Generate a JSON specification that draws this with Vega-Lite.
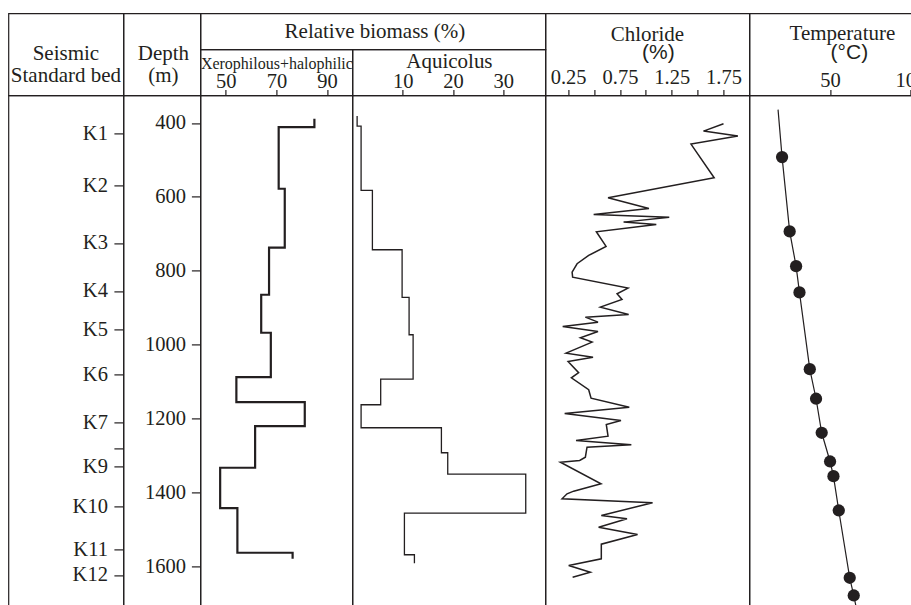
{
  "$schema": "https://vega.github.io/schema/vega-lite/v6.json",
  "padding": {"left": 7.4, "top": 12.4, "right": 0, "bottom": 0},
  "background": "white",
  "config": {
    "view": {"stroke": "#231f20", "strokeWidth": 1.2},
    "axis": {"labelFont": "Liberation Serif", "labelFontSize": 20.5, "labelColor": "#231f20", "tickColor": "#231f20", "tickWidth": 1.2,
             "domain": false, "grid": false, "labelOverlap": false, "labelFlush": false,
             "titleFont": "Liberation Serif", "titleFontWeight": "normal", "titleColor": "#231f20"},
    "text": {"font": "Liberation Serif", "fontSize": 21, "color": "#231f20"}
  },
  "spacing": 0,
  "bounds": "flush",
  "vconcat": [
    {
      "spacing": 0, "bounds": "flush",
      "hconcat": [
        {"width": 115, "height": 82,
         "layer": [
           {"data": {"values": [{"label": "Seismic\nStandard bed"}]},
            "mark": {"type": "text", "lineBreak": "\n", "lineHeight": 22},
            "encoding": {"text": {"field": "label", "type": "nominal"}}},
           {"data": {"values": []}, "mark": "point",
            "encoding": {"x": {"field": "u", "type": "quantitative", "axis": null}}}
         ]},
        {"width": 77, "height": 82,
         "layer": [
           {"data": {"values": [{"label": "Depth\n(m)"}]},
            "mark": {"type": "text", "lineBreak": "\n", "lineHeight": 22, "dx": 1.5},
            "encoding": {"text": {"field": "label", "type": "nominal"}}},
           {"data": {"values": []}, "mark": "point",
            "encoding": {"x": {"field": "u", "type": "quantitative", "axis": null}}}
         ]},
        {"spacing": 0, "bounds": "flush",
         "vconcat": [
           {"width": 345, "height": 36,
            "layer": [
              {"data": {"values": [{"label": "Relative biomass (%)"}]},
               "mark": {"type": "text", "baseline": "alphabetic", "dy": 6.7, "dx": 2},
               "encoding": {"text": {"field": "label", "type": "nominal"}}},
              {"data": {"values": []}, "mark": "point",
               "encoding": {"x": {"field": "u", "type": "quantitative", "axis": null}}}
            ]},
           {"spacing": 0, "bounds": "flush",
            "hconcat": [
              {"width": 152, "height": 46, "data": {"values": []}, "mark": "point",
               "encoding": {
                 "x": {"field": "xero", "type": "quantitative",
                       "scale": {"domain": [40, 100], "nice": false, "zero": false},
                       "axis": {"orient": "top", "offset": -46, "values": [50, 70, 90], "tickSize": 6, "labelPadding": 2, "labelBaseline": "alphabetic",
                                "title": "Xerophilous+halophilic", "titleFontSize": 16, "titleBaseline": "alphabetic", "titleY": -27.3}}
               }},
              {"width": 193, "height": 46, "data": {"values": []}, "mark": "point",
               "encoding": {
                 "x": {"field": "aqui", "type": "quantitative",
                       "scale": {"domain": [0, 38.4], "nice": false, "zero": false},
                       "axis": {"orient": "top", "offset": -46, "values": [10, 20, 30], "tickSize": 6, "labelPadding": 2, "labelBaseline": "alphabetic",
                                "title": "Aquicolus", "titleFontSize": 21, "titleBaseline": "alphabetic", "titleY": -27.5}}
               }}
            ]}
         ]},
        {"width": 345, "height": 1, "data": {"values": []}, "mark": "point"},
        {"width": 204, "height": 82,
         "layer": [
           {"data": {"values": [{"label": "Chloride"}]},
            "mark": {"type": "text", "baseline": "alphabetic", "dy": -13.3},
            "encoding": {"text": {"field": "label", "type": "nominal"}}},
           {"data": {"values": [{"label": "(%)"}]},
            "mark": {"type": "text", "font": "Liberation Sans", "baseline": "alphabetic", "dy": 4.6, "dx": 11},
            "encoding": {"text": {"field": "label", "type": "nominal"}}},
           {"data": {"values": []}, "mark": "point",
            "encoding": {
              "x": {"field": "cl", "type": "quantitative",
                    "scale": {"domain": [0.03, 2.0], "nice": false, "zero": false},
                    "axis": {"orient": "top", "offset": -82, "values": [0.25, 0.5, 0.75, 1, 1.25, 1.5, 1.75], "tickSize": 6, "labelPadding": 6, "labelBaseline": "alphabetic", "title": null,
                             "labelExpr": "indexof([0.25, 0.75, 1.25, 1.75], datum.value) >= 0 ? format(datum.value, '.2f') : ''"}}
            }}
         ]},
        {"width": 162, "height": 82,
         "layer": [
           {"data": {"values": [{"label": "Temperature"}]},
            "mark": {"type": "text", "baseline": "alphabetic", "dy": -14, "dx": 12},
            "encoding": {"text": {"field": "label", "type": "nominal"}}},
           {"data": {"values": [{"label": "(°C)"}]},
            "mark": {"type": "text", "font": "Liberation Sans", "baseline": "alphabetic", "dy": 4.6, "dx": 19},
            "encoding": {"text": {"field": "label", "type": "nominal"}}},
           {"data": {"values": []}, "mark": "point",
            "encoding": {
              "x": {"field": "temp", "type": "quantitative",
                    "scale": {"domain": [0, 100.6], "nice": false, "zero": false},
                    "axis": {"orient": "top", "offset": -82, "values": [50, 100], "tickSize": 6, "labelPadding": 3, "labelBaseline": "alphabetic", "title": null}}
            }}
         ]}
      ]
    },
    {"width": 1, "height": 82, "data": {"values": []}, "mark": "point"},
    {
      "spacing": 0, "bounds": "flush",
      "hconcat": [
        {"width": 115, "height": 511, "data": {"values": []}, "mark": "point",
         "encoding": {
           "y": {"field": "depth", "type": "quantitative",
                 "scale": {"domain": [325.5, 1709], "reverse": true, "nice": false, "zero": false}, "axis": null}
         }},
        {"width": 77, "height": 511, "data": {"values": []}, "mark": "point",
         "encoding": {
           "y": {"field": "depth", "type": "quantitative",
                 "scale": {"domain": [325.5, 1709], "reverse": true, "nice": false, "zero": false},
                 "axis": {"orient": "left", "title": null, "tickSize": 9.5, "labelPadding": 6.5,
                          "values": [429, 569, 725, 855, 960, 1081, 1210, 1280, 1329, 1438, 1555, 1624],
                          "labelExpr": "['K1','K2','K3','K4','K5','K6','K7','','K9','K10','K11','K12'][indexof([429, 569, 725, 855, 960, 1081, 1210, 1280, 1329, 1438, 1555, 1624], datum.value)]"}}
         }},
        {"width": 152, "height": 511,
         "data": {"values": [
           {"pct": 85.0, "depth": 388.6}, {"pct": 70.9, "depth": 411.4}, {"pct": 73.3, "depth": 578.2},
           {"pct": 67.1, "depth": 737.9}, {"pct": 64.0, "depth": 865.2}, {"pct": 67.8, "depth": 968.1},
           {"pct": 54.2, "depth": 1088.3}, {"pct": 81.2, "depth": 1156}, {"pct": 61.6, "depth": 1221},
           {"pct": 47.8, "depth": 1333.6}, {"pct": 54.6, "depth": 1443}, {"pct": 76.4, "depth": 1563.8},
           {"pct": 76.4, "depth": 1580}
         ]},
         "mark": {"type": "line", "interpolate": "step-before", "color": "#231f20", "strokeWidth": 2.2},
         "encoding": {
           "x": {"field": "pct", "type": "quantitative", "scale": {"domain": [40, 100], "nice": false, "zero": false}, "axis": null},
           "y": {"field": "depth", "type": "quantitative",
                 "scale": {"domain": [325.5, 1709], "reverse": true, "nice": false, "zero": false},
                 "axis": {"orient": "left", "title": null, "values": [400, 600, 800, 1000, 1200, 1400, 1600], "format": "d", "tickSize": 9, "labelPadding": 6}},
           "order": {"field": "depth", "type": "quantitative"}
         }},
        {"width": 193, "height": 511,
         "data": {"values": [
           {"pct": 0.94, "depth": 381.6}, {"pct": 1.73, "depth": 408.7}, {"pct": 3.98, "depth": 582.8},
           {"pct": 9.89, "depth": 743.4}, {"pct": 11.28, "depth": 872.5}, {"pct": 12.08, "depth": 973.5},
           {"pct": 5.63, "depth": 1093.7}, {"pct": 1.73, "depth": 1163}, {"pct": 17.71, "depth": 1225.3},
           {"pct": 18.97, "depth": 1293}, {"pct": 34.49, "depth": 1351}, {"pct": 10.35, "depth": 1456.6},
           {"pct": 12.34, "depth": 1569.2}, {"pct": 12.34, "depth": 1592}
         ]},
         "mark": {"type": "line", "interpolate": "step-before", "color": "#231f20", "strokeWidth": 1.3},
         "encoding": {
           "x": {"field": "pct", "type": "quantitative", "scale": {"domain": [0, 38.4], "nice": false, "zero": false}, "axis": null},
           "y": {"field": "depth", "type": "quantitative",
                 "scale": {"domain": [325.5, 1709], "reverse": true, "nice": false, "zero": false}, "axis": null},
           "order": {"field": "depth", "type": "quantitative"}
         }},
        {"width": 204, "height": 511,
         "data": {"values": [
           {"cl": 1.750, "depth": 402.2}, {"cl": 1.557, "depth": 422.2}, {"cl": 1.889, "depth": 435.7},
           {"cl": 1.436, "depth": 457.4}, {"cl": 1.660, "depth": 548.4}, {"cl": 0.635, "depth": 602.5},
           {"cl": 1.030, "depth": 631.5}, {"cl": 0.496, "depth": 647.8}, {"cl": 1.226, "depth": 655.1},
           {"cl": 0.785, "depth": 668.6}, {"cl": 1.101, "depth": 674.8}, {"cl": 0.522, "depth": 694.6},
           {"cl": 0.616, "depth": 734.4}, {"cl": 0.448, "depth": 758.8}, {"cl": 0.336, "depth": 781.3},
           {"cl": 0.288, "depth": 804.0}, {"cl": 0.293, "depth": 817.5}, {"cl": 0.828, "depth": 847.3},
           {"cl": 0.722, "depth": 862.5}, {"cl": 0.770, "depth": 877.9}, {"cl": 0.561, "depth": 898.8},
           {"cl": 0.834, "depth": 918.5}, {"cl": 0.416, "depth": 925.9}, {"cl": 0.538, "depth": 939.4},
           {"cl": 0.197, "depth": 951.0}, {"cl": 0.538, "depth": 964.6}, {"cl": 0.368, "depth": 981.6},
           {"cl": 0.481, "depth": 993.6}, {"cl": 0.230, "depth": 1023.3}, {"cl": 0.490, "depth": 1034.2},
           {"cl": 0.249, "depth": 1045.8}, {"cl": 0.351, "depth": 1076.4}, {"cl": 0.281, "depth": 1090.0},
           {"cl": 0.448, "depth": 1122.4}, {"cl": 0.471, "depth": 1145.2}, {"cl": 0.840, "depth": 1169.6},
           {"cl": 0.216, "depth": 1186.6}, {"cl": 0.760, "depth": 1205.6}, {"cl": 0.618, "depth": 1216.4},
           {"cl": 0.635, "depth": 1248.1}, {"cl": 0.326, "depth": 1259.7}, {"cl": 0.860, "depth": 1271.4},
           {"cl": 0.432, "depth": 1277.9}, {"cl": 0.416, "depth": 1305.0}, {"cl": 0.361, "depth": 1313.9},
           {"cl": 0.175, "depth": 1318.5}, {"cl": 0.567, "depth": 1377.0}, {"cl": 0.303, "depth": 1397.0},
           {"cl": 0.239, "depth": 1404.1}, {"cl": 0.191, "depth": 1417.6}, {"cl": 1.065, "depth": 1428.4},
           {"cl": 0.570, "depth": 1462.8}, {"cl": 0.818, "depth": 1471.8}, {"cl": 0.544, "depth": 1494.5},
           {"cl": 0.920, "depth": 1514.3}, {"cl": 0.570, "depth": 1540.5}, {"cl": 0.570, "depth": 1580.1},
           {"cl": 0.255, "depth": 1598.2}, {"cl": 0.464, "depth": 1616.4}, {"cl": 0.293, "depth": 1629.9}
         ]},
         "mark": {"type": "line", "color": "#231f20", "strokeWidth": 1.5},
         "encoding": {
           "x": {"field": "cl", "type": "quantitative", "scale": {"domain": [0.03, 2.0], "nice": false, "zero": false}, "axis": null},
           "y": {"field": "depth", "type": "quantitative",
                 "scale": {"domain": [325.5, 1709], "reverse": true, "nice": false, "zero": false}, "axis": null},
           "order": {"field": "depth", "type": "quantitative"}
         }},
        {"width": 162, "height": 511,
         "data": {"values": [
           {"temp": 17.8, "depth": 364, "kind": "trend"},
           {"temp": 20.3, "depth": 492.6, "kind": "measured"},
           {"temp": 25.0, "depth": 693.8, "kind": "measured"},
           {"temp": 29.0, "depth": 787.8, "kind": "measured"},
           {"temp": 31.1, "depth": 859.0, "kind": "measured"},
           {"temp": 37.5, "depth": 1066.7, "kind": "measured"},
           {"temp": 41.4, "depth": 1146.8, "kind": "measured"},
           {"temp": 44.9, "depth": 1238.9, "kind": "measured"},
           {"temp": 50.1, "depth": 1316.6, "kind": "measured"},
           {"temp": 52.2, "depth": 1356.4, "kind": "measured"},
           {"temp": 55.5, "depth": 1449.3, "kind": "measured"},
           {"temp": 62.3, "depth": 1631.5, "kind": "measured"},
           {"temp": 64.8, "depth": 1679.4, "kind": "measured"},
           {"temp": 66.2, "depth": 1709, "kind": "trend"}
         ]},
         "encoding": {
           "x": {"field": "temp", "type": "quantitative", "scale": {"domain": [0, 100.6], "nice": false, "zero": false}, "axis": null},
           "y": {"field": "depth", "type": "quantitative",
                 "scale": {"domain": [325.5, 1709], "reverse": true, "nice": false, "zero": false}, "axis": null}
         },
         "layer": [
           {"mark": {"type": "line", "color": "#231f20", "strokeWidth": 1.2},
            "encoding": {"order": {"field": "depth", "type": "quantitative"}}},
           {"transform": [{"filter": "datum.kind === 'measured'"}],
            "mark": {"type": "circle", "size": 150, "color": "#231f20", "opacity": 1}}
         ]}
      ]
    }
  ]
}
